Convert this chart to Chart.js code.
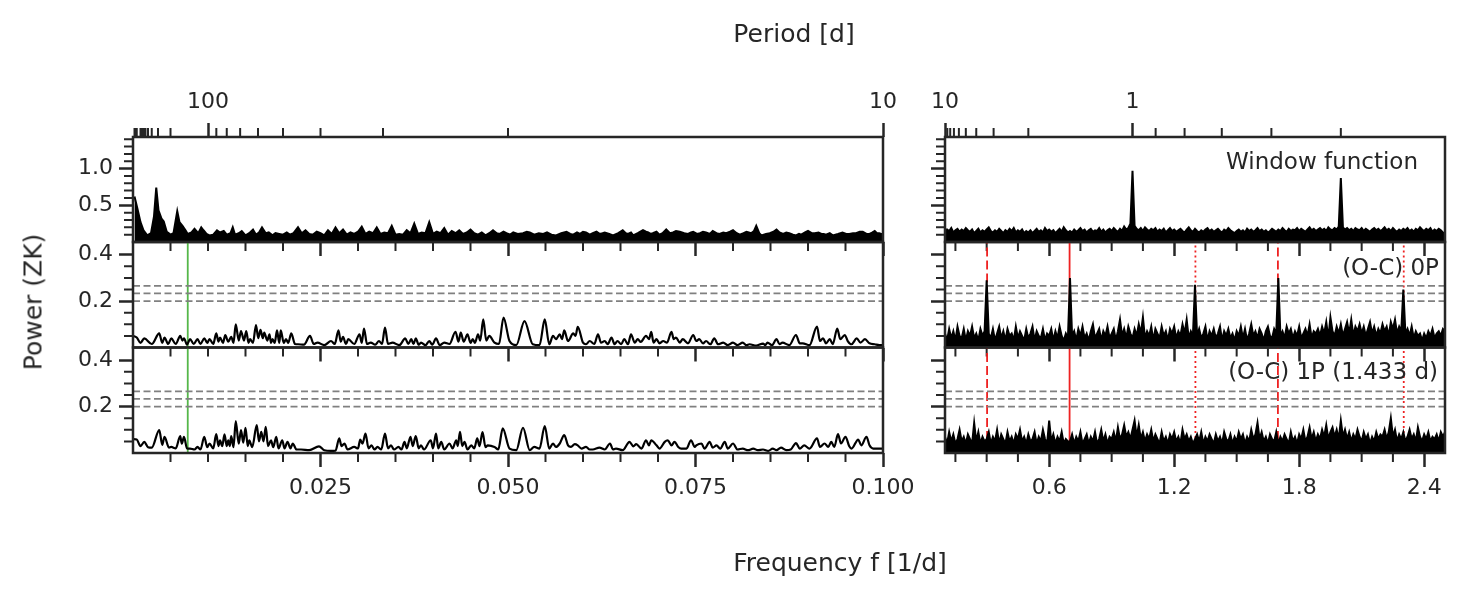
<!DOCTYPE html>
<html>
<head>
<meta charset="utf-8">
<script src="https://cdn.jsdelivr.net/npm/chart.js@4"></script>
<style>
  body { margin: 0; background: #fff; width: 1466px; height: 597px; overflow: hidden; position: relative;
         font-family: "DejaVu Sans", sans-serif; color: #262626; }
  canvas { position: absolute; left: 0; top: 0; }
  .lbl { position: absolute; white-space: nowrap; font-size: 25px; line-height: 1; }
  .note { position: absolute; white-space: nowrap; font-size: 23px; line-height: 1; }
</style>
</head>
<body>
<canvas id="wl" width="1466" height="597"></canvas>
<canvas id="wr" width="1466" height="597"></canvas>
<canvas id="ml" width="1466" height="597"></canvas>
<canvas id="mr" width="1466" height="597"></canvas>
<canvas id="bl" width="1466" height="597"></canvas>
<canvas id="br" width="1466" height="597"></canvas>

<div class="lbl" style="left:794px;top:33px;transform:translate(-50%,-50%)">Period [d]</div>
<div class="lbl" style="left:840px;top:562px;transform:translate(-50%,-50%)">Frequency f [1/d]</div>
<div class="lbl" style="left:33px;top:302px;transform:translate(-50%,-50%) rotate(-90deg)">Power (ZK)</div>
<div class="note" style="right:48px;top:161px;transform:translateY(-50%)">Window function</div>
<div class="note" style="right:27px;top:267px;transform:translateY(-50%)">(O-C) 0P</div>
<div class="note" style="right:28px;top:371px;transform:translateY(-50%)">(O-C) 1P (1.433 d)</div>

<script>
// ---- data ----
// low-frequency window function (left top)
const winLeftF = [0.0002,0.0006,0.0010,0.0014,0.0019,0.0024,0.0028,0.0031,0.0034,0.0038,0.0041,0.0045,0.0050,0.0054,0.0059,0.0062,0.0066,0.0070,0.0073,0.0078,
  0.0082,0.0087,0.0091,0.0094,0.0098,0.0102,0.0107,0.0112,0.0116,0.0121,0.0125,0.0130,0.0133,0.0136,0.0141,0.0145,0.0150,0.0155,0.0160,0.0164,
  0.0168,0.0172,0.0177,0.0181,0.0186,0.0190,0.0195,0.0200,0.0205,0.0209,0.0214,0.0220,0.0225,0.0230,0.0235,0.0240,0.0245,0.0250,0.0255,0.0260,
  0.0265,0.0270,0.0275,0.0280,0.0285,0.0290,0.0295,0.0300,0.0305,0.0310,0.0315,0.0320,0.0325,0.0330,0.0335,0.0340,0.0345,0.0350,0.0355,0.0360,
  0.0365,0.0370,0.0375,0.0380,0.0385,0.0390,0.0395,0.0400,0.0405,0.0410,0.0415,0.0420,0.0425,0.0430,0.0435,0.0440,0.0445,0.0450,0.0455,0.0460,
  0.0465,0.0470,0.0475,0.0480,0.0485,0.0489,0.0494,0.0498,0.0503,0.0507,0.0513,0.0520,0.0525,0.0529,0.0535,0.0541,0.0547,0.0552,0.0558,0.0564,
  0.0571,0.0578,0.0583,0.0587,0.0592,0.0596,0.0600,0.0604,0.0609,0.0613,0.0618,0.0622,0.0626,0.0629,0.0635,0.0640,0.0647,0.0653,0.0657,0.0660,
  0.0664,0.0667,0.0673,0.0680,0.0684,0.0687,0.0690,0.0693,0.0698,0.0702,0.0706,0.0711,0.0716,0.0720,0.0724,0.0729,0.0735,0.0740,0.0744,0.0747,
  0.0752,0.0756,0.0760,0.0764,0.0769,0.0773,0.0778,0.0782,0.0787,0.0791,0.0796,0.0800,0.0805,0.0809,0.0814,0.0818,0.0821,0.0824,0.0828,0.0831,
  0.0835,0.0838,0.0844,0.0849,0.0854,0.0858,0.0862,0.0867,0.0871,0.0875,0.0880,0.0884,0.0888,0.0891,0.0896,0.0900,0.0905,0.0909,0.0914,0.0918,
  0.0921,0.0924,0.0929,0.0933,0.0940,0.0946,0.0951,0.0955,0.0960,0.0964,0.0969,0.0973,0.0978,0.0982,0.0986,0.0989,0.0992,0.0995,0.1000];
const winLeftP = [0.62,0.45,0.27,0.16,0.09,0.12,0.35,0.74,0.43,0.32,0.28,0.14,0.10,0.12,0.42,0.27,0.22,0.16,0.11,0.13,
  0.18,0.12,0.20,0.16,0.11,0.09,0.10,0.16,0.13,0.15,0.10,0.12,0.20,0.10,0.12,0.15,0.09,0.12,0.17,0.10,
  0.13,0.20,0.12,0.13,0.09,0.12,0.11,0.10,0.13,0.10,0.12,0.20,0.12,0.16,0.11,0.10,0.14,0.12,0.09,0.16,
  0.11,0.20,0.12,0.17,0.10,0.13,0.11,0.14,0.21,0.11,0.14,0.12,0.20,0.11,0.13,0.12,0.22,0.10,0.11,0.10,
  0.16,0.12,0.25,0.11,0.13,0.12,0.27,0.11,0.14,0.12,0.19,0.10,0.15,0.12,0.16,0.11,0.13,0.17,0.12,0.10,
  0.13,0.09,0.12,0.16,0.12,0.11,0.14,0.12,0.10,0.13,0.11,0.12,0.14,0.13,0.10,0.12,0.11,0.13,0.10,0.09,
  0.12,0.14,0.11,0.10,0.13,0.11,0.14,0.13,0.10,0.12,0.14,0.11,0.12,0.13,0.11,0.09,0.12,0.16,0.12,0.11,
  0.13,0.09,0.12,0.16,0.14,0.13,0.11,0.12,0.14,0.10,0.12,0.17,0.12,0.13,0.15,0.14,0.12,0.11,0.13,0.14,
  0.11,0.12,0.14,0.13,0.11,0.15,0.12,0.11,0.13,0.12,0.14,0.16,0.12,0.10,0.12,0.14,0.13,0.12,0.15,0.22,
  0.12,0.09,0.11,0.12,0.14,0.17,0.13,0.11,0.13,0.12,0.10,0.09,0.11,0.10,0.13,0.15,0.12,0.12,0.13,0.11,
  0.11,0.10,0.12,0.09,0.11,0.13,0.11,0.11,0.12,0.12,0.14,0.14,0.11,0.11,0.13,0.15,0.12,0.12,0.10];

// (O-C) 0P, low frequencies (left middle)
const oc0LeftF = [0.0000,0.0005,0.0010,0.0015,0.0025,0.0035,0.0039,0.0042,0.0047,0.0051,0.0057,0.0063,0.0066,0.0068,0.0072,0.0076,0.0081,0.0086,0.0090,0.0095,
  0.0099,0.0102,0.0107,0.0111,0.0114,0.0116,0.0120,0.0123,0.0127,0.0131,0.0134,0.0137,0.0141,0.0144,0.0148,0.0151,0.0154,0.0156,0.0160,0.0164,
  0.0167,0.0170,0.0173,0.0175,0.0179,0.0182,0.0184,0.0186,0.0189,0.0192,0.0195,0.0197,0.0201,0.0204,0.0207,0.0211,0.0216,0.0220,0.0228,0.0236,
  0.0241,0.0246,0.0255,0.0264,0.0269,0.0274,0.0277,0.0280,0.0284,0.0287,0.0295,0.0302,0.0305,0.0308,0.0312,0.0317,0.0323,0.0328,0.0332,0.0336,
  0.0340,0.0346,0.0355,0.0363,0.0367,0.0371,0.0374,0.0377,0.0381,0.0384,0.0390,0.0395,0.0399,0.0404,0.0409,0.0415,0.0422,0.0430,0.0434,0.0437,
  0.0441,0.0446,0.0450,0.0453,0.0456,0.0460,0.0463,0.0467,0.0471,0.0475,0.0482,0.0488,0.0494,0.0502,0.0511,0.0522,0.0533,0.0542,0.0549,0.0555,
  0.0560,0.0564,0.0569,0.0572,0.0575,0.0580,0.0587,0.0590,0.0593,0.0600,0.0604,0.0609,0.0615,0.0620,0.0624,0.0629,0.0633,0.0638,0.0642,0.0646,
  0.0651,0.0655,0.0660,0.0664,0.0669,0.0673,0.0677,0.0684,0.0688,0.0691,0.0694,0.0698,0.0702,0.0707,0.0712,0.0718,0.0721,0.0724,0.0729,0.0733,
  0.0740,0.0747,0.0751,0.0755,0.0760,0.0764,0.0770,0.0775,0.0780,0.0787,0.0793,0.0800,0.0806,0.0813,0.0818,0.0822,0.0831,0.0840,0.0843,0.0846,
  0.0852,0.0858,0.0862,0.0866,0.0875,0.0884,0.0889,0.0893,0.0902,0.0912,0.0916,0.0920,0.0924,0.0929,0.0933,0.0939,0.0943,0.0949,0.0953,0.0958,
  0.0965,0.0970,0.0976,0.0982,0.0989,0.0995,0.1000];
const oc0LeftP = [0.050,0.043,0.020,0.039,0.015,0.061,0.020,0.043,0.015,0.039,0.015,0.050,0.030,0.040,0.012,0.036,0.015,0.036,0.015,0.040,
  0.020,0.036,0.015,0.061,0.025,0.043,0.020,0.053,0.025,0.046,0.020,0.100,0.030,0.071,0.030,0.071,0.020,0.036,0.020,0.097,
  0.040,0.076,0.040,0.064,0.030,0.057,0.020,0.036,0.020,0.074,0.020,0.074,0.020,0.036,0.020,0.061,0.015,0.014,0.012,0.050,
  0.015,0.021,0.010,0.028,0.015,0.074,0.025,0.046,0.015,0.036,0.015,0.057,0.020,0.082,0.015,0.021,0.012,0.028,0.015,0.086,
  0.015,0.021,0.010,0.039,0.015,0.036,0.015,0.039,0.012,0.021,0.010,0.028,0.012,0.039,0.010,0.021,0.015,0.068,0.025,0.064,
  0.025,0.057,0.020,0.036,0.020,0.057,0.030,0.121,0.030,0.050,0.021,0.015,0.129,0.028,0.010,0.114,0.014,0.010,0.121,0.014,
  0.050,0.036,0.057,0.036,0.074,0.028,0.061,0.050,0.089,0.021,0.014,0.028,0.015,0.057,0.021,0.028,0.014,0.043,0.014,0.028,
  0.014,0.036,0.014,0.057,0.021,0.036,0.024,0.050,0.036,0.068,0.021,0.036,0.018,0.028,0.021,0.068,0.036,0.043,0.021,0.036,
  0.018,0.054,0.028,0.036,0.018,0.028,0.014,0.040,0.014,0.021,0.010,0.021,0.010,0.021,0.010,0.014,0.008,0.017,0.010,0.021,
  0.010,0.036,0.014,0.021,0.010,0.054,0.018,0.018,0.010,0.090,0.028,0.040,0.018,0.036,0.014,0.082,0.036,0.054,0.028,0.014,
  0.039,0.021,0.036,0.018,0.014,0.010,0.010];

// (O-C) 1P, low frequencies (left bottom)
const oc1LeftF = [0.0000,0.0005,0.0010,0.0015,0.0020,0.0025,0.0035,0.0039,0.0042,0.0048,0.0051,0.0057,0.0063,0.0065,0.0068,0.0072,0.0076,0.0082,0.0086,0.0090,
  0.0095,0.0099,0.0102,0.0107,0.0111,0.0114,0.0116,0.0119,0.0122,0.0125,0.0127,0.0129,0.0131,0.0134,0.0137,0.0141,0.0144,0.0147,0.0150,0.0153,
  0.0155,0.0159,0.0165,0.0168,0.0171,0.0174,0.0177,0.0180,0.0184,0.0187,0.0191,0.0194,0.0199,0.0202,0.0206,0.0210,0.0213,0.0218,0.0224,0.0235,
  0.0248,0.0255,0.0264,0.0270,0.0275,0.0278,0.0282,0.0286,0.0295,0.0300,0.0303,0.0306,0.0310,0.0314,0.0318,0.0322,0.0326,0.0331,0.0336,0.0340,
  0.0344,0.0348,0.0354,0.0358,0.0362,0.0365,0.0370,0.0373,0.0377,0.0381,0.0384,0.0388,0.0397,0.0400,0.0404,0.0407,0.0411,0.0415,0.0422,0.0426,
  0.0431,0.0433,0.0436,0.0439,0.0442,0.0446,0.0451,0.0455,0.0459,0.0462,0.0466,0.0470,0.0473,0.0482,0.0487,0.0493,0.0502,0.0511,0.0520,0.0529,
  0.0535,0.0542,0.0549,0.0555,0.0560,0.0564,0.0569,0.0575,0.0580,0.0584,0.0589,0.0593,0.0598,0.0604,0.0609,0.0613,0.0622,0.0629,0.0636,0.0640,
  0.0644,0.0653,0.0662,0.0667,0.0671,0.0678,0.0684,0.0688,0.0691,0.0698,0.0702,0.0709,0.0713,0.0718,0.0722,0.0727,0.0731,0.0738,0.0744,0.0749,
  0.0751,0.0758,0.0762,0.0769,0.0773,0.0778,0.0783,0.0789,0.0793,0.0800,0.0806,0.0813,0.0820,0.0827,0.0833,0.0840,0.0847,0.0853,0.0858,0.0864,
  0.0871,0.0877,0.0884,0.0889,0.0895,0.0902,0.0912,0.0916,0.0922,0.0927,0.0931,0.0935,0.0940,0.0944,0.0950,0.0955,0.0958,0.0967,0.0971,0.0978,
  0.0982,0.0987,0.0995,0.1000];
const oc1LeftP = [0.060,0.058,0.030,0.048,0.025,0.023,0.099,0.035,0.070,0.023,0.026,0.020,0.073,0.040,0.070,0.020,0.019,0.015,0.026,0.015,
  0.070,0.025,0.041,0.020,0.081,0.030,0.055,0.030,0.080,0.030,0.055,0.030,0.073,0.025,0.138,0.040,0.099,0.045,0.109,0.030,
  0.055,0.025,0.120,0.050,0.091,0.050,0.113,0.030,0.055,0.025,0.070,0.020,0.055,0.020,0.048,0.020,0.041,0.015,0.015,0.012,
  0.029,0.012,0.009,0.010,0.063,0.030,0.041,0.015,0.026,0.020,0.058,0.040,0.084,0.020,0.033,0.015,0.026,0.015,0.084,0.020,
  0.033,0.015,0.026,0.015,0.048,0.020,0.070,0.030,0.073,0.020,0.033,0.015,0.055,0.020,0.084,0.020,0.048,0.015,0.041,0.020,
  0.055,0.030,0.091,0.030,0.048,0.015,0.033,0.020,0.063,0.030,0.090,0.025,0.033,0.026,0.015,0.106,0.019,0.012,0.109,0.012,
  0.026,0.019,0.116,0.019,0.041,0.026,0.041,0.077,0.033,0.026,0.038,0.033,0.019,0.026,0.015,0.015,0.023,0.015,0.041,0.015,
  0.019,0.012,0.048,0.029,0.038,0.019,0.055,0.033,0.055,0.033,0.019,0.048,0.055,0.033,0.048,0.026,0.019,0.019,0.055,0.026,
  0.033,0.041,0.019,0.048,0.023,0.033,0.019,0.048,0.019,0.041,0.015,0.019,0.012,0.019,0.012,0.015,0.009,0.019,0.012,0.023,
  0.012,0.015,0.043,0.019,0.033,0.019,0.063,0.026,0.041,0.026,0.048,0.026,0.081,0.041,0.070,0.029,0.019,0.058,0.033,0.070,
  0.033,0.019,0.019,0.019];

// high-frequency side: one value per 0.01 d^-1 from 0.10 to 2.50
const rightFreq = Array.from({ length: 241 }, (_, i) => +(0.10 + i * 0.01).toFixed(2));
const winRightP = [
  .12,.17,.15,.19,.13,.16,.18,.14,.17,.15, .19,.16,.14,.17,.12,.15,.18,.13,.16,.14,
  .17,.20,.15,.13,.16,.14,.18,.15,.12,.16, .14,.18,.15,.19,.13,.16,.14,.17,.12,.15,
  .13,.16,.12,.15,.18,.14,.16,.13,.19,.15, .17,.14,.16,.12,.15,.18,.14,.20,.16,.13,
  .15,.13,.17,.14,.16,.19,.15,.17,.13,.16, .18,.14,.16,.15,.19,.14,.17,.13,.16,.18,
  .15,.19,.16,.14,.18,.15,.21,.17,.19,.25, .97,.22,.18,.16,.19,.15,.20,.17,.15,.18,
  .16,.19,.14,.17,.15,.18,.13,.16,.19,.15, .17,.14,.16,.18,.15,.13,.17,.20,.16,.14,
  .18,.15,.13,.16,.14,.17,.19,.15,.17,.14, .16,.18,.15,.13,.17,.15,.19,.16,.14,.12,
  .15,.17,.14,.16,.13,.18,.15,.17,.14,.16, .19,.15,.17,.14,.16,.13,.15,.18,.16,.14,
  .17,.15,.19,.16,.14,.18,.15,.17,.16,.19, .15,.18,.16,.14,.17,.20,.16,.18,.15,.17,
  .19,.16,.18,.15,.20,.17,.16,.19,.17,.21, .87,.20,.17,.19,.16,.18,.15,.19,.17,.16,
  .19,.15,.18,.16,.14,.17,.19,.16,.18,.15, .17,.20,.16,.18,.15,.19,.16,.14,.17,.15,
  .18,.16,.19,.15,.17,.14,.18,.16,.20,.17, .15,.18,.16,.19,.14,.17,.15,.18,.16,.13,
  .10];
const oc0RightP = [
  .06,.03,.08,.04,.07,.03,.09,.05,.04,.08, .03,.07,.05,.09,.04,.06,.03,.08,.05,.07,
  .29,.06,.04,.08,.03,.06,.09,.04,.07,.03, .08,.05,.06,.03,.09,.04,.07,.05,.03,.08,
  .04,.06,.09,.03,.07,.05,.04,.08,.03,.06, .05,.08,.03,.07,.04,.09,.05,.03,.06,.04,
  .30,.05,.07,.03,.08,.05,.09,.04,.06,.03, .07,.10,.04,.06,.08,.03,.07,.05,.09,.04,
  .06,.08,.03,.07,.12,.05,.08,.04,.09,.06, .04,.08,.05,.10,.06,.13,.04,.07,.05,.09,
  .03,.08,.06,.04,.09,.05,.07,.03,.08,.06, .09,.04,.07,.05,.10,.06,.12,.04,.07,.05,
  .27,.05,.08,.04,.06,.09,.03,.07,.05,.08, .04,.06,.09,.03,.07,.05,.08,.04,.06,.03,
  .07,.05,.09,.04,.08,.03,.06,.10,.05,.07, .04,.08,.06,.03,.07,.09,.05,.04,.08,.06,
  .30,.05,.07,.04,.09,.06,.08,.04,.07,.05, .09,.04,.06,.08,.05,.10,.04,.07,.06,.08,
  .05,.09,.06,.11,.04,.13,.07,.05,.09,.06, .10,.05,.08,.11,.06,.12,.05,.09,.07,.10,
  .06,.09,.05,.08,.11,.06,.09,.05,.08,.06, .10,.07,.09,.05,.11,.08,.12,.06,.09,.07,
  .25,.06,.08,.05,.09,.04,.07,.05,.06,.03, .06,.04,.07,.05,.08,.04,.06,.07,.05,.08,
  .07];
const oc1RightP = [
  .07,.04,.09,.05,.08,.04,.06,.10,.05,.07, .04,.08,.06,.04,.13,.05,.09,.04,.07,.05,
  .06,.09,.04,.07,.05,.10,.04,.08,.06,.04, .09,.05,.07,.04,.08,.06,.10,.05,.07,.04,
  .08,.05,.06,.09,.04,.07,.05,.10,.06,.04, .14,.05,.08,.04,.07,.05,.09,.04,.06,.05,
  .05,.08,.04,.07,.05,.09,.04,.06,.08,.04, .07,.05,.09,.04,.06,.10,.05,.08,.04,.07,
  .06,.09,.05,.11,.06,.08,.12,.07,.09,.06, .10,.14,.07,.12,.06,.09,.05,.08,.06,.10,
  .05,.08,.06,.04,.09,.05,.07,.04,.08,.06, .09,.05,.07,.04,.10,.06,.08,.05,.07,.04,
  .06,.08,.05,.09,.04,.07,.05,.08,.06,.04, .08,.05,.07,.04,.09,.06,.05,.08,.04,.07,
  .05,.09,.06,.08,.04,.07,.05,.10,.06,.08, .13,.06,.09,.05,.07,.04,.08,.06,.05,.09,
  .04,.07,.05,.08,.06,.04,.09,.05,.07,.04, .08,.06,.10,.05,.07,.11,.06,.09,.05,.08,
  .06,.10,.07,.12,.06,.09,.11,.07,.10,.06, .14,.07,.10,.06,.09,.05,.08,.06,.10,.07,
  .05,.09,.06,.08,.04,.07,.05,.09,.06,.08, .07,.10,.06,.09,.15,.07,.10,.05,.08,.06,
  .09,.05,.07,.10,.06,.08,.05,.11,.07,.05, .08,.06,.09,.05,.07,.06,.08,.05,.09,.07,
  .09];

// significance levels and marked frequencies
const fapLevels = [0.200, 0.233, 0.266];
const greenFreq = 0.0073;
const redSolid = [0.698];          // 1 / 1.433 d
const redDashed = [0.302, 1.698];
const redDotted = [1.302, 2.302];

// tick positions
const leftMajorX = [0.025, 0.05, 0.075, 0.1];
const leftMinorX = [0.005, 0.01, 0.015, 0.02, 0.03, 0.035, 0.04, 0.045, 0.055, 0.06, 0.065, 0.07, 0.08, 0.085, 0.09, 0.095];
const rightMajorX = [0.6, 1.2, 1.8, 2.4];
const rightMinorX = [0.15, 0.3, 0.45, 0.75, 0.9, 1.05, 1.35, 1.5, 1.65, 1.95, 2.1, 2.25];
const topMajorY = [0.5, 1.0];
const topMinorY = [0.1, 0.2, 0.3, 0.4, 0.6, 0.7, 0.8, 0.9, 1.1, 1.2, 1.3, 1.4];
const ocMajorY = [0.2, 0.4];
const ocMinorY = [0.05, 0.1, 0.15, 0.25, 0.3, 0.35];
const leftPeriodMajor = [100, 10];
const leftPeriodMinor = [5000, 4000, 3000, 2000, 1000, 900, 800, 700, 600, 500, 400, 300, 200, 90, 80, 70, 60, 50, 40, 30, 20];
const rightPeriodMajor = [10, 1];
const rightPeriodMinor = [9, 8, 7, 6, 5, 4, 3, 2, 0.9, 0.8, 0.7, 0.6, 0.5];

// ---- drawing ----
Chart.defaults.font.family = '"DejaVu Sans", sans-serif';
Chart.defaults.font.size = 22;
Chart.defaults.color = '#262626';

const INK = '#262626';
const RED = '#ee2222';
const gridOpts = { drawOnChartArea: false, drawTicks: true, tickLength: 14, tickWidth: 2.5, tickColor: INK };

const colL = { left: 133, right: 883 };
const colR = { left: 945, right: 1445 };
const rows = [{ top: 137, bottom: 242 }, { top: 242, bottom: 347.5 }, { top: 347.5, bottom: 453 }];

function series(fs, ps, fill) {
  return {
    data: fs.map((f, i) => ({ x: f, y: ps[i] })),
    borderColor: '#000', backgroundColor: '#000', borderWidth: fill ? 2 : 2.2,
    pointRadius: 0, fill: fill ? 'origin' : false,
    cubicInterpolationMode: fill ? 'default' : 'monotone', tension: 0
  };
}
function hline(v, x0, x1) {
  return { data: [{ x: x0, y: v }, { x: x1, y: v }], borderColor: '#808080', borderWidth: 1.8,
           borderDash: [7, 3.5], pointRadius: 0, fill: false };
}
function vline(f, yMax, color, dash) {
  return { data: [{ x: f, y: 0 }, { x: f, y: yMax }], borderColor: color, borderWidth: 1.8,
           borderDash: dash, pointRadius: 0, fill: false };
}

function panel(id, o) {
  const col = o.right ? colR : colL;
  const row = rows[o.row];
  const yW = o.right ? 14 : 100;
  const topH = o.period ? 50 : 0;
  const botH = o.row === 2 ? 70 : 14;

  const scales = {
    x: {
      type: 'linear', position: 'bottom', min: o.xMin, max: o.xMax,
      afterBuildTicks: s => { s.ticks = o.xMajor.map(v => ({ value: v })); },
      afterFit: s => { s.height = botH; },
      ticks: { display: o.row === 2, autoSkip: false, maxRotation: 0, minRotation: 0, padding: 8,
               callback: v => v.toFixed(o.right ? 1 : 3) },
      grid: gridOpts, border: { display: false }
    },
    y: {
      type: 'linear', position: 'left', min: 0, max: o.yMax,
      afterBuildTicks: s => { s.ticks = o.yMajor.map(v => ({ value: v })); },
      afterFit: s => { s.width = yW; },
      ticks: { display: !o.right, padding: 6, callback: v => v.toFixed(1) },
      grid: gridOpts, border: { display: false }
    }
  };
  if (o.period) {
    scales.x2 = {
      type: 'linear', position: 'top', min: o.xMin, max: o.xMax,
      afterBuildTicks: s => { s.ticks = o.period.major.map(p => ({ value: 1 / p })); },
      afterFit: s => { s.height = topH; },
      ticks: { autoSkip: false, maxRotation: 0, minRotation: 0, padding: 8,
               callback: v => String(Math.round(1 / v)) },
      grid: gridOpts, border: { display: false }
    };
  }

  // minor ticks and the frame round the panel
  const framePlugin = {
    id: 'frame',
    afterDraw(chart) {
      const ctx = chart.ctx, ca = chart.chartArea;
      ctx.save();
      ctx.strokeStyle = INK;
      ctx.lineWidth = 2;
      ctx.beginPath();
      o.xMinor.forEach(v => {
        const p = chart.scales.x.getPixelForValue(v);
        ctx.moveTo(p, ca.bottom); ctx.lineTo(p, ca.bottom + 9);
      });
      o.yMinor.forEach(v => {
        const p = chart.scales.y.getPixelForValue(v);
        ctx.moveTo(ca.left - 9, p); ctx.lineTo(ca.left, p);
      });
      if (o.period) {
        o.period.minor.forEach(P => {
          const p = chart.scales.x2.getPixelForValue(1 / P);
          ctx.moveTo(p, ca.top - 9); ctx.lineTo(p, ca.top);
        });
      }
      ctx.stroke();
      ctx.lineWidth = 2.5;
      ctx.strokeRect(ca.left, ca.top, ca.right - ca.left, ca.bottom - ca.top);
      ctx.restore();
    }
  };

  new Chart(document.getElementById(id), {
    type: 'line',
    data: { datasets: o.datasets },
    options: {
      responsive: false, animation: false, events: [],
      layout: { padding: { left: col.left - yW, right: 1466 - col.right,
                           top: row.top - topH, bottom: 597 - row.bottom - botH } },
      plugins: { legend: { display: false }, tooltip: { enabled: false } },
      scales
    },
    plugins: [framePlugin]
  });
}

const ocMax = 0.455, winMax = 1.43;

function ocExtras(x0, x1, yMax, right) {
  const out = fapLevels.map(v => hline(v, x0, x1));
  if (right) {
    redSolid.forEach(f => out.push(vline(f, yMax, RED, [])));
    redDashed.forEach(f => out.push(vline(f, yMax, RED, [9, 4])));
    redDotted.forEach(f => out.push(vline(f, yMax, RED, [2, 3])));
  } else {
    out.push(vline(greenFreq, yMax, '#55b74a', []));
  }
  return out;
}

panel('wl', { row: 0, right: false, xMin: 0, xMax: 0.1, yMax: winMax,
  xMajor: leftMajorX, xMinor: leftMinorX, yMajor: topMajorY, yMinor: topMinorY,
  period: { major: leftPeriodMajor, minor: leftPeriodMinor },
  datasets: [series(winLeftF, winLeftP, true)] });

panel('wr', { row: 0, right: true, xMin: 0.1, xMax: 2.5, yMax: winMax,
  xMajor: rightMajorX, xMinor: rightMinorX, yMajor: topMajorY, yMinor: topMinorY,
  period: { major: rightPeriodMajor, minor: rightPeriodMinor },
  datasets: [series(rightFreq, winRightP, true)] });

panel('ml', { row: 1, right: false, xMin: 0, xMax: 0.1, yMax: ocMax,
  xMajor: leftMajorX, xMinor: leftMinorX, yMajor: ocMajorY, yMinor: ocMinorY,
  datasets: [series(oc0LeftF, oc0LeftP, false), ...ocExtras(0, 0.1, ocMax, false)] });

panel('mr', { row: 1, right: true, xMin: 0.1, xMax: 2.5, yMax: ocMax,
  xMajor: rightMajorX, xMinor: rightMinorX, yMajor: ocMajorY, yMinor: ocMinorY,
  datasets: [series(rightFreq, oc0RightP, true), ...ocExtras(0.1, 2.5, ocMax, true)] });

panel('bl', { row: 2, right: false, xMin: 0, xMax: 0.1, yMax: ocMax,
  xMajor: leftMajorX, xMinor: leftMinorX, yMajor: ocMajorY, yMinor: ocMinorY,
  datasets: [series(oc1LeftF, oc1LeftP, false), ...ocExtras(0, 0.1, ocMax, false)] });

panel('br', { row: 2, right: true, xMin: 0.1, xMax: 2.5, yMax: ocMax,
  xMajor: rightMajorX, xMinor: rightMinorX, yMajor: ocMajorY, yMinor: ocMinorY,
  datasets: [series(rightFreq, oc1RightP, true), ...ocExtras(0.1, 2.5, ocMax, true)] });
</script>
</body>
</html>
